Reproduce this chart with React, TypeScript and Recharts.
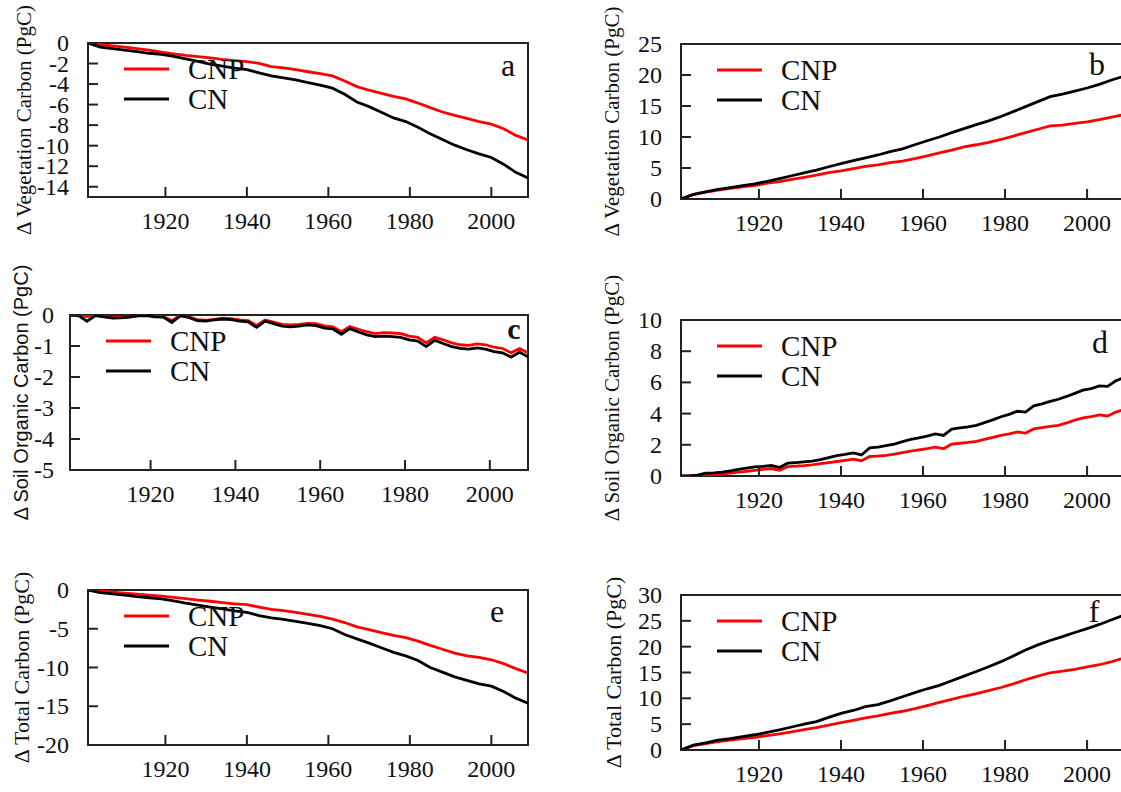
import React from "react";
import { LineChart, Line, XAxis, YAxis, ReferenceArea, Legend } from "recharts";

// years sampled for the smooth pools (every 3 yr) and the soil pools (every 2 yr)
const YEARS_3 = [
  1901, 1904, 1907, 1910, 1913, 1916, 1919, 1922, 1925, 1928, 1931, 1934, 1937,
  1940, 1943, 1946, 1949, 1952, 1955, 1958, 1961, 1964, 1967, 1970, 1973, 1976,
  1979, 1982, 1985, 1988, 1991, 1994, 1997, 2000, 2003, 2006, 2009
];
const YEARS_2 = [
  1901, 1903, 1905, 1907, 1909, 1911, 1913, 1915, 1917, 1919, 1921, 1923, 1925,
  1927, 1929, 1931, 1933, 1935, 1937, 1939, 1941, 1943, 1945, 1947, 1949, 1951,
  1953, 1955, 1957, 1959, 1961, 1963, 1965, 1967, 1969, 1971, 1973, 1975, 1977,
  1979, 1981, 1983, 1985, 1987, 1989, 1991, 1993, 1995, 1997, 1999, 2001, 2003,
  2005, 2007, 2009
];
const X_TICKS = [1920, 1940, 1960, 1980, 2000];

// panel a
const VEG_LOSS_CNP = [
  0, -0.15, -0.28, -0.4, -0.55, -0.7, -0.88, -1.05, -1.2, -1.32, -1.45, -1.6, -1.72,
  -1.82, -1.98, -2.3, -2.42, -2.6, -2.8, -2.98, -3.2, -3.7, -4.25, -4.6, -4.9, -5.2,
  -5.45, -5.85, -6.3, -6.72, -7.05, -7.35, -7.65, -7.9, -8.35, -9.0, -9.45
];
const VEG_LOSS_CN = [
  0, -0.4, -0.55, -0.7, -0.85, -1.0, -1.1, -1.3, -1.55, -1.8, -2.05, -2.25, -2.45,
  -2.6, -2.9, -3.2, -3.4, -3.6, -3.85, -4.1, -4.4, -5.0, -5.75, -6.2, -6.75, -7.3,
  -7.65, -8.2, -8.85, -9.4, -9.95, -10.4, -10.8, -11.15, -11.8, -12.6, -13.15
];
// panel b
const VEG_GAIN_CNP = [
  0, 0.7, 1.1, 1.45, 1.7, 1.95, 2.2, 2.55, 2.8, 3.15, 3.5, 3.85, 4.25, 4.55, 4.9,
  5.25, 5.5, 5.85, 6.1, 6.5, 6.95, 7.45, 7.9, 8.4, 8.75, 9.15, 9.6, 10.15, 10.7,
  11.25, 11.8, 11.9, 12.2, 12.45, 12.8, 13.2, 13.6
];
const VEG_GAIN_CN = [
  0, 0.75, 1.15, 1.55, 1.85, 2.15, 2.45, 2.85, 3.3, 3.75, 4.2, 4.65, 5.2, 5.7, 6.2,
  6.65, 7.1, 7.65, 8.1, 8.75, 9.4, 10.0, 10.7, 11.35, 12.0, 12.6, 13.3, 14.1, 14.9,
  15.7, 16.5, 16.9, 17.4, 17.9, 18.5, 19.2, 19.8
];
// panel c
const SOIL_LOSS_CNP = [
  0, -0.01, -0.05, 0, -0.04, -0.08, -0.08, -0.06, -0.02, 0, -0.04, -0.05, -0.18,
  -0.01, -0.06, -0.15, -0.17, -0.14, -0.1, -0.12, -0.16, -0.18, -0.34, -0.16, -0.23,
  -0.3, -0.32, -0.3, -0.27, -0.28, -0.35, -0.38, -0.54, -0.37, -0.46, -0.54, -0.6,
  -0.57, -0.58, -0.6, -0.68, -0.72, -0.9, -0.72, -0.8, -0.9, -0.96, -0.98, -0.93,
  -0.96, -1.04, -1.08, -1.22, -1.08, -1.22
];
const SOIL_LOSS_CN = [
  0, -0.02, -0.2, -0.02, -0.06, -0.1, -0.09, -0.07, -0.03, -0.02, -0.06, -0.07, -0.24,
  -0.03, -0.08, -0.18, -0.2, -0.16, -0.13, -0.15, -0.2, -0.22, -0.4, -0.2, -0.28,
  -0.36, -0.38, -0.36, -0.32, -0.34, -0.42, -0.45, -0.62, -0.44, -0.55, -0.64, -0.7,
  -0.68, -0.7, -0.72, -0.8, -0.84, -1.02, -0.82, -0.92, -1.02, -1.08, -1.1, -1.06,
  -1.1, -1.18, -1.22, -1.36, -1.2, -1.35
];
// panel d
const SOIL_GAIN_CNP = [
  0, 0, 0.02, 0.05, 0.08, 0.12, 0.18, 0.25, 0.3, 0.36, 0.42, 0.48, 0.36, 0.6, 0.63,
  0.66, 0.72, 0.8, 0.86, 0.93, 1.0, 1.08, 0.98, 1.25, 1.28, 1.32, 1.4, 1.5, 1.6,
  1.68, 1.75, 1.85, 1.75, 2.05, 2.1, 2.15, 2.22, 2.35, 2.48, 2.6, 2.7, 2.82, 2.75,
  3.02, 3.1, 3.18, 3.25, 3.4, 3.58, 3.72, 3.8, 3.92, 3.85, 4.1, 4.25
];
const SOIL_GAIN_CN = [
  0, 0, 0.05, 0.18, 0.2, 0.25, 0.33, 0.42, 0.5, 0.58, 0.62, 0.68, 0.55, 0.82, 0.86,
  0.9, 0.95, 1.05, 1.18, 1.3, 1.38, 1.48, 1.35, 1.8, 1.85, 1.95, 2.05, 2.2, 2.35,
  2.45, 2.55, 2.7, 2.6, 3.0, 3.08, 3.15, 3.25, 3.42, 3.6, 3.8, 3.95, 4.15, 4.1, 4.5,
  4.62, 4.78, 4.92, 5.1, 5.3, 5.5, 5.6, 5.78, 5.75, 6.1, 6.3
];
// panel e
const TOTAL_LOSS_CNP = [
  0, -0.12, -0.27, -0.4, -0.52, -0.65, -0.78, -0.95, -1.12, -1.3, -1.45, -1.62, -1.78,
  -1.9, -2.2, -2.5, -2.65, -2.9, -3.15, -3.4, -3.75, -4.2, -4.75, -5.1, -5.5, -5.85,
  -6.15, -6.6, -7.15, -7.65, -8.15, -8.5, -8.7, -9.0, -9.5, -10.15, -10.7
];
const TOTAL_LOSS_CN = [
  0, -0.35, -0.5, -0.65, -0.85, -1.0, -1.15, -1.4, -1.7, -1.95, -2.2, -2.45, -2.7,
  -2.9, -3.3, -3.6, -3.8, -4.05, -4.3, -4.6, -5.0, -5.75, -6.3, -6.85, -7.45, -8.05,
  -8.5, -9.1, -10.0, -10.6, -11.2, -11.65, -12.1, -12.4, -13.1, -13.95, -14.6
];
// panel f
const TOTAL_GAIN_CNP = [
  0, 0.85, 1.25, 1.6, 1.9, 2.2, 2.45, 2.8, 3.1, 3.5, 3.95, 4.35, 4.8, 5.3, 5.75, 6.2,
  6.6, 7.1, 7.5, 8.0, 8.6, 9.2, 9.8, 10.4, 10.9, 11.5, 12.1, 12.8, 13.6, 14.3, 14.95,
  15.25, 15.6, 16.1, 16.5, 17.1, 17.8
];
const TOTAL_GAIN_CN = [
  0, 0.95, 1.4, 1.9, 2.2, 2.6, 2.95, 3.4, 3.9, 4.45, 5.0, 5.5, 6.3, 7.1, 7.65, 8.4,
  8.8, 9.5, 10.3, 11.1, 11.85, 12.5, 13.4, 14.3, 15.2, 16.1, 17.1, 18.2, 19.35, 20.35,
  21.2, 21.95, 22.75, 23.5, 24.3, 25.2, 26.1
];

const SERIF = "'Liberation Serif', 'Times New Roman', Times, serif";
const SANS = "'Liberation Sans', Arial, sans-serif";
const FRAME = "#222";
const RED = "#ff0000";
const TICK_LEN = 10;
const XAXIS_H = 40;
const X_LABEL_DY = 24;

const SERIES = [
  { key: "cnp", name: "CNP", color: RED },
  { key: "cn", name: "CN", color: "#000" }
];

const buildRows = (years: number[], cnp: number[], cn: number[]) =>
  years.map((year, i) => ({ year, cnp: cnp[i], cn: cn[i] }));

const PANELS = [
  {
    id: "a", label: "Δ Vegetation Carbon (PgC)", labelFont: SERIF, labelSize: 21,
    rows: buildRows(YEARS_3, VEG_LOSS_CNP, VEG_LOSS_CN),
    domain: [-15, 0], ticks: [0, -2, -4, -6, -8, -10, -12, -14],
    x0: 0, y0: 0, w: 545, h: 262, left: 88, top: 43, right: 528, bottom: 197,
    labelX: 24, gap: 19, letterDx: 20, letterDy: 33, bold: false
  },
  {
    id: "b", label: "Δ Vegetation Carbon (PgC)", labelFont: SERIF, labelSize: 21,
    rows: buildRows(YEARS_3, VEG_GAIN_CNP, VEG_GAIN_CN),
    domain: [0, 25], ticks: [0, 5, 10, 15, 20, 25],
    x0: 560, y0: 0, w: 570, h: 262, left: 681, top: 44, right: 1124, bottom: 199,
    labelX: 612, gap: 19, letterDx: 27, letterDy: 31, bold: false
  },
  {
    id: "c", label: "Δ Soil Organic Carbon (PgC)", labelFont: SANS, labelSize: 20,
    rows: buildRows(YEARS_2, SOIL_LOSS_CNP, SOIL_LOSS_CN),
    domain: [-5, 0], ticks: [0, -1, -2, -3, -4, -5],
    x0: 0, y0: 262, w: 545, h: 270, left: 70, top: 315, right: 528, bottom: 470,
    labelX: 21, gap: 16, letterDx: 14, letterDy: 24, bold: true
  },
  {
    id: "d", label: "Δ Soil Organic Carbon (PgC)", labelFont: SERIF, labelSize: 21,
    rows: buildRows(YEARS_2, SOIL_GAIN_CNP, SOIL_GAIN_CN),
    domain: [0, 10], ticks: [0, 2, 4, 6, 8, 10],
    x0: 560, y0: 262, w: 570, h: 270, left: 681, top: 320, right: 1124, bottom: 476,
    labelX: 612, gap: 19, letterDx: 24, letterDy: 33, bold: false
  },
  {
    id: "e", label: "Δ Total Carbon (PgC)", labelFont: SERIF, labelSize: 22,
    rows: buildRows(YEARS_3, TOTAL_LOSS_CNP, TOTAL_LOSS_CN),
    domain: [-20, 0], ticks: [0, -5, -10, -15, -20],
    x0: 0, y0: 532, w: 545, h: 270, left: 88, top: 590, right: 528, bottom: 745,
    labelX: 21, gap: 19, letterDx: 31, letterDy: 32, bold: false
  },
  {
    id: "f", label: "Δ Total Carbon (PgC)", labelFont: SERIF, labelSize: 22,
    rows: buildRows(YEARS_3, TOTAL_GAIN_CNP, TOTAL_GAIN_CN),
    domain: [0, 30], ticks: [0, 5, 10, 15, 20, 25, 30],
    x0: 560, y0: 532, w: 570, h: 270, left: 681, top: 595, right: 1124, bottom: 750,
    labelX: 613, gap: 19, letterDx: 30, letterDy: 27, bold: false
  }
];

const XTick = (props: any) => {
  const { x, y, payload } = props;
  return (
    <g>
      <line x1={x} x2={x} y1={y} y2={y - TICK_LEN} stroke={FRAME} strokeWidth={2} />
      <text x={x} y={y + X_LABEL_DY} textAnchor="middle" dominantBaseline="central"
        style={{ fontFamily: SERIF, fontSize: 24 }} fill="#111">
        {payload.value}
      </text>
    </g>
  );
};

const makeYTick = (gap: number) => (props: any) => {
  const { x, y, payload } = props;
  return (
    <g>
      <line x1={x} x2={x + TICK_LEN} y1={y} y2={y} stroke={FRAME} strokeWidth={2} />
      <text x={x - gap} y={y} textAnchor="end" dominantBaseline="central"
        style={{ fontFamily: SERIF, fontSize: 24 }} fill="#111">
        {payload.value}
      </text>
    </g>
  );
};

const LegendBox = () => (
  <svg width={150} height={62}>
    {SERIES.map((s, i) => (
      <g key={s.key}>
        <line x1={0} x2={45} y1={15 + i * 30} y2={15 + i * 30} stroke={s.color} strokeWidth={3} />
        <text x={64} y={15 + i * 30} dominantBaseline="central"
          style={{ fontFamily: SERIF, fontSize: 29 }} fill="#111">
          {s.name}
        </text>
      </g>
    ))}
  </svg>
);

const Panel = ({ p }: { p: (typeof PANELS)[number] }) => {
  const margin = {
    top: p.top - p.y0,
    right: p.x0 + p.w - p.right,
    bottom: p.y0 + p.h - p.bottom - XAXIS_H,
    left: 0
  };
  return (
    <div style={{ position: "absolute", left: p.x0, top: p.y0 }}>
      <LineChart width={p.w} height={p.h} data={p.rows} margin={margin}>
        <XAxis dataKey="year" type="number" domain={[1901, 2009]} ticks={X_TICKS}
          allowDataOverflow axisLine={false} tickLine={false} tickSize={0} tickMargin={0}
          height={XAXIS_H} tick={XTick} interval={0} />
        <YAxis type="number" domain={p.domain} ticks={p.ticks} allowDataOverflow
          axisLine={false} tickLine={false} tickSize={0} tickMargin={0}
          width={p.left - p.x0} tick={makeYTick(p.gap)} interval={0}
          label={(lp: any) => {
            const vb = lp.viewBox || {};
            const cy = (vb.y ?? 0) + (vb.height ?? 0) / 2;
            const cx = p.labelX - p.x0;
            return (
              <text x={cx} y={cy} transform={`rotate(-90 ${cx} ${cy})`} textAnchor="middle"
                dominantBaseline="central"
                style={{ fontFamily: p.labelFont, fontSize: p.labelSize }} fill="#111">
                {p.label}
              </text>
            );
          }} />
        <ReferenceArea x1={1901} x2={2009} y1={p.domain[0]} y2={p.domain[1]}
          fill="none" fillOpacity={0} stroke={FRAME} strokeWidth={2} ifOverflow="visible"
          label={(lp: any) => {
            const vb = lp.viewBox || {};
            return (
              <text x={vb.x + vb.width - p.letterDx} y={vb.y + p.letterDy} textAnchor="middle"
                style={{
                  fontFamily: SERIF,
                  fontSize: p.bold ? 30 : 32,
                  fontWeight: p.bold ? 700 : 400
                }}
                fill="#111">
                {p.id}
              </text>
            );
          }} />
        {SERIES.map(s => (
          <Line key={s.key} dataKey={s.key} name={s.name} stroke={s.color} strokeWidth={2.8}
            dot={false} type="linear" isAnimationActive={false} />
        ))}
        <Legend layout="vertical" align="center" verticalAlign="middle" content={LegendBox}
          wrapperStyle={{
            position: "absolute",
            left: p.left - p.x0 + 36,
            top: p.top - p.y0 + 11,
            width: 150,
            height: 62
          }} />
      </LineChart>
    </div>
  );
};

export default function App() {
  return (
    <div style={{
      position: "absolute", left: 0, top: 0, width: 1121, height: 792,
      overflow: "hidden", background: "#fff", fontFamily: SERIF
    }}>
      {PANELS.map(p => (
        <Panel key={p.id} p={p} />
      ))}
    </div>
  );
}
